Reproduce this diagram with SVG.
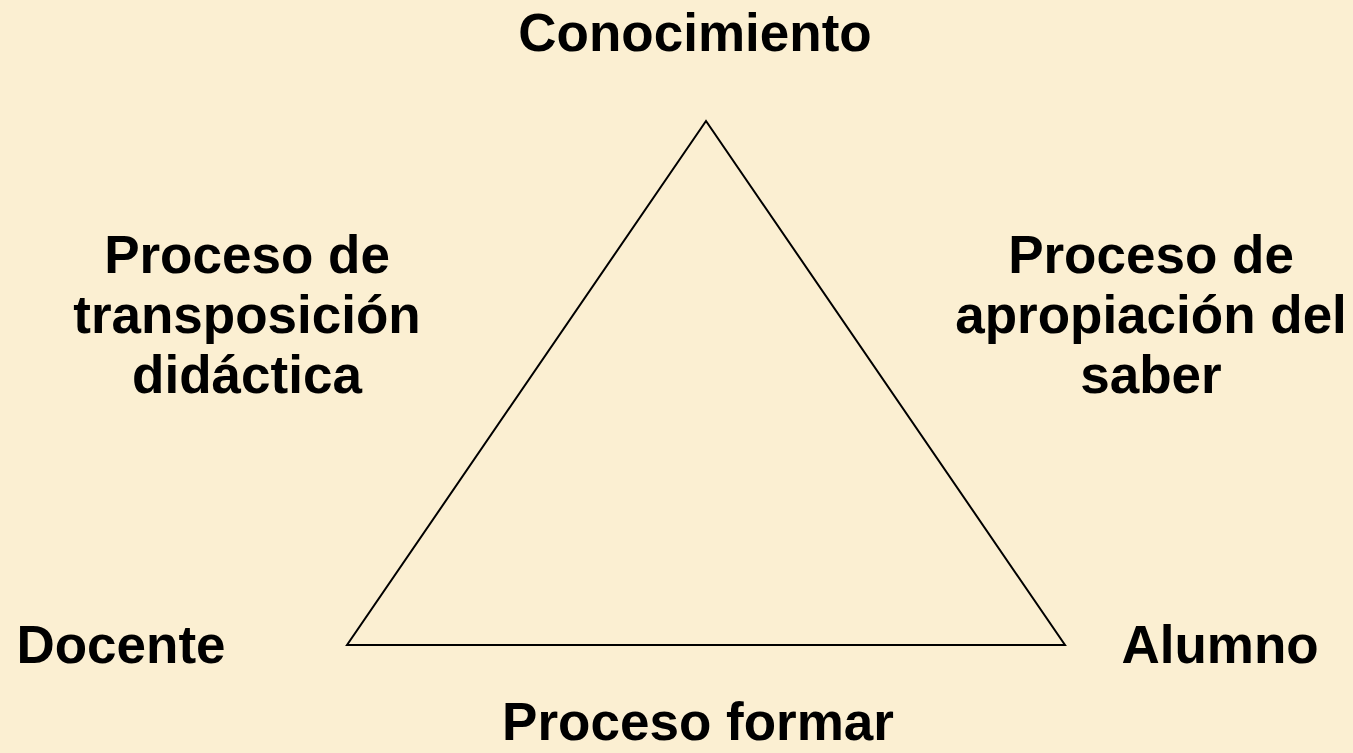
<svg xmlns="http://www.w3.org/2000/svg" width="1353" height="753" viewBox="0 0 1353 753">
<style>
.t{font-family:"Liberation Sans",Arial,sans-serif;font-weight:bold;font-size:53px;fill:#000;text-anchor:middle}
</style>
<rect width="1353" height="753" fill="#FBEFD2"/>
<g id="connectors">
<polygon points="706,121 347,645 1065,645" fill="none" stroke="#000" stroke-width="2"/>
</g>
<g id="conocimiento"><text class="t" x="695" y="51">Conocimiento</text></g>
<g id="docente"><text class="t" x="121" y="663">Docente</text></g>
<g id="alumno"><text class="t" x="1220" y="663">Alumno</text></g>
<g id="transposicion"><text class="t" x="247" y="273">Proceso de</text><text class="t" x="247" y="333">transposición</text><text class="t" x="247" y="393">didáctica</text></g>
<g id="apropiacion"><text class="t" x="1151" y="273">Proceso de</text><text class="t" x="1151" y="333">apropiación del</text><text class="t" x="1151" y="393">saber</text></g>
<g id="formar"><text class="t" x="698" y="740">Proceso formar</text></g>
</svg>
